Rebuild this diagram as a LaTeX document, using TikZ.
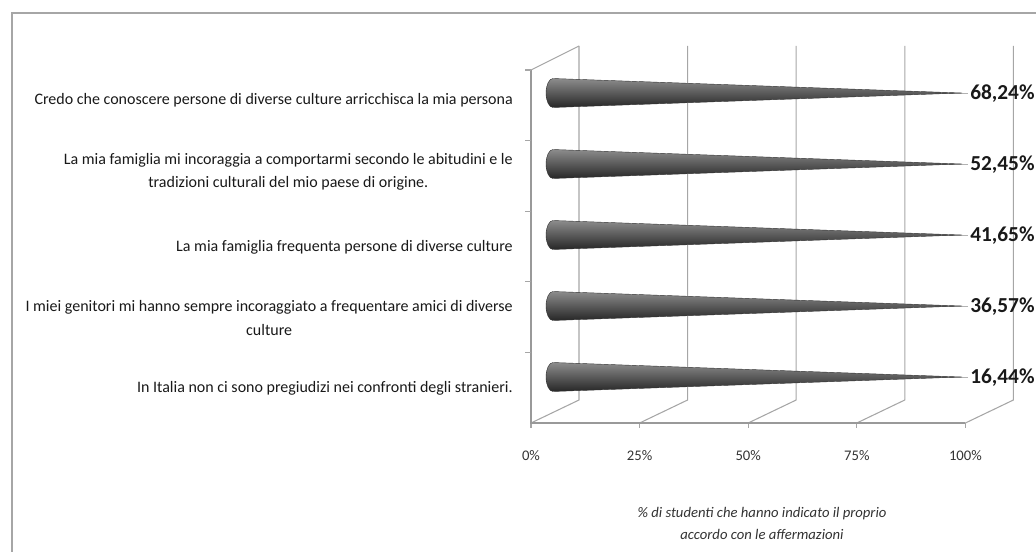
\documentclass[tikz,border=0pt]{standalone}
\usepackage{fontspec}
\setmainfont{Carlito}
\usetikzlibrary{positioning}
\tikzset{font=\fontsize{12}{17.5}\selectfont}
\tikzset{grid/.style={draw=black!35, line width=0.8pt}}
\tikzset{axisline/.style={draw=black!40, line width=1.6pt}}
\tikzset{cone/.style={top color=black!45, middle color=black!70, bottom color=black!85, draw=black!80, line width=0.3pt}}
\tikzset{catlabel/.style={anchor=east, align=center, text=black!90, inner sep=0pt}}
\tikzset{vallabel/.style={anchor=west, font=\fontsize{16}{17}\selectfont\bfseries, text=black!90, inner sep=0pt}}
\tikzset{ticklabel/.style={font=\fontsize{11}{12}\selectfont, text=black!80}}

\begin{document}
\begin{tikzpicture}[x=0.75pt, y=-0.75pt]
  \useasboundingbox (0,0) rectangle (1036,552);
  \draw[draw=black!35, line width=1.6pt] (12,552)--(12,13)--(1036,13);

  % back wall and floor
  \foreach \i in {0,...,4}{
    \draw[grid] ({579+108.6*\i},46)--({579+108.6*\i},400)--({531+108.6*\i},423);
    \draw[grid] ({531+108.6*\i},423)--({531+108.6*\i},428);
  };
  \draw[grid] (531,70)--(579,46);
  \draw[axisline] (531,70)--(531,423)--(965,423);
  \foreach \y in {70,140.6,211.2,281.8,352.4}{
    \draw[grid] (525,\y)--(531,\y);
  };

  % cones
  \foreach \c/\v [count=\i] in {93/{68,24\%}, 164/{52,45\%}, 235/{41,65\%}, 306/{36,57\%}, 377/{16,44\%}}{
    \draw[black!30, line width=0.6pt] (930,\c)--(968,\c);
    \shade[cone] (553,\c-14.5)--(962,\c)--(553,\c+14.5)
      arc[start angle=90, end angle=270, x radius=7, y radius=14.5]--cycle;
    \node[vallabel] (val\i) at (970,\c+1) {\v};
  };

  \node[catlabel] (lab1) at (513,100) {Credo che conoscere persone di diverse culture arricchisca la mia persona};
  \node[catlabel] (lab2) at (513,172) {La mia famiglia mi incoraggia a comportarmi secondo le abitudini e le\\tradizioni culturali del mio paese di origine.};
  \node[catlabel] (lab3) at (513,247) {La mia famiglia frequenta persone di diverse culture};
  \node[catlabel] (lab4) at (513,318) {I miei genitori mi hanno sempre incoraggiato a frequentare amici di diverse\\culture};
  \node[catlabel] (lab5) at (513,388) {In Italia non ci sono pregiudizi nei confronti degli stranieri.};

  \foreach \pc [count=\i from 0] in {0,25,50,75,100}{
    \node[ticklabel] (pc\i) at ({531+108.6*\i},456) {\pc\%};
  };

  \node[ticklabel, align=center, font=\fontsize{11}{16.5}\selectfont\itshape] (titolo) at (762,523)
    {\% di studenti che hanno indicato il proprio\\accordo con le affermazioni};
\end{tikzpicture}
\end{document}
